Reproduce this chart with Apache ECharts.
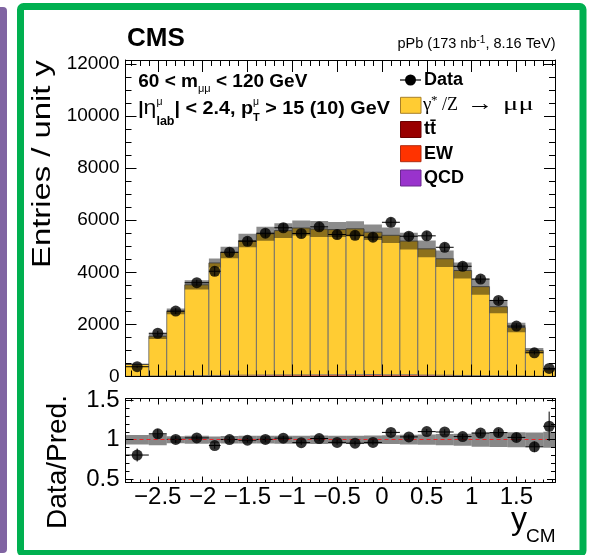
<!DOCTYPE html>
<html><head><meta charset="utf-8">
<script src="https://cdn.jsdelivr.net/npm/echarts@6/dist/echarts.min.js"></script>
<style>html,body{margin:0;padding:0;background:#fff}#c{width:589px;height:555px}</style>
</head><body><div id="c"></div>
<script>
// ---------------- data ----------------
const binEdges = [-2.86,-2.6,-2.4,-2.2,-1.93,-1.8,-1.6,-1.4,-1.2,-1.0,-0.8,-0.6,-0.4,-0.2,0,0.2,0.4,0.6,0.8,1.0,1.2,1.4,1.6,1.8,1.93];
const dataValues = [375,1660,2510,3600,4040,4770,5190,5500,5710,5490,5745,5450,5420,5350,5920,5385,5400,4960,4230,3740,2920,1935,910,310];
const dataErrors = [38,91,112,115,176,154,161,166,169,166,169,165,165,164,172,164,164,157,145,137,121,98,67,49];
const predTotal = [465,1545,2500,3520,4360,4760,5220,5480,5600,5700,5660,5640,5670,5540,5420,5200,4900,4520,4070,3450,2680,1880,1000,265];
const ttbarValues = [4,9,14,18,20,24,28,31,34,36,38,39,40,39,37,34,31,27,22,18,14,10,6,3];
const ewValues = [3,8,12,15,16,18,20,21,22,22,22,22,22,30,22,30,20,18,15,12,10,7,4,2];
const qcdValues = [1,2,3,3,3,4,4,4,4,4,4,4,4,4,4,4,4,4,3,3,2,2,1,1];
const predUncFrac = [0.06,0.07,0.045,0.05,0.04,0.047,0.049,0.049,0.05,0.05,0.054,0.051,0.051,0.054,0.055,0.062,0.065,0.071,0.076,0.089,0.093,0.095,0.09,0.1];
const xTickValues = [-2.5,-2,-1.5,-1,-0.5,0,0.5,1,1.5];
const yTickValues = [0,2000,4000,6000,8000,10000,12000];
const ratioTickValues = [0.5,1,1.5];

// ---------------- layout ----------------
const L = 125.5, R = 555, T1 = 60, B1 = 376.5, T2 = 398.5, B2 = 482.5;
const xMin = binEdges[0], xMax = binEdges[binEdges.length-1];
const yMax = 12150, rMin = 0.46, rMax = 1.52;
const SANS = '"Liberation Sans", Arial, Helvetica, sans-serif';
const SERIF = '"Liberation Serif", "Times New Roman", serif';

const r1 = v => Math.round(v*10)/10;
const xMinor = []; for (let v = -2.8; v <= 1.9001; v += 0.1) { const t = r1(v); if (Math.abs(t*2 - Math.round(t*2)) > 1e-6) xMinor.push(t); }
const yMinor = []; for (let v = 500; v <= 12000; v += 500) if (v % 2000) yMinor.push(v);
const rMinor = []; for (let v = 0.5; v <= 1.5001; v += 0.1) { const t = r1(v); if (Math.abs(t*2 - Math.round(t*2)) > 1e-6) rMinor.push(t); }

const fmtX = v => (v < 0 ? '\u2212' + String(Math.abs(v)) : String(v));

function axis(gridIndex, position, min, max, ticks, len, showLine, label) {
  return {
    type: 'value', gridIndex, position, min, max, z: 10,
    axisLine: {show: showLine, onZero: false, lineStyle: {color: '#000', width: 1}},
    axisTick: {show: true, inside: true, length: len, customValues: ticks, lineStyle: {color: '#000', width: 1}},
    axisLabel: label ? Object.assign({show: true, customValues: ticks, color: '#000', fontFamily: SANS}, label) : {show: false},
    splitLine: {show: false}, minorTick: {show: false}
  };
}

const xAxes = [
  axis(0,'bottom',xMin,xMax,xTickValues,12,true,null),
  axis(0,'bottom',xMin,xMax,xMinor,6,false,null),
  axis(0,'top',xMin,xMax,xTickValues,12,true,null),
  axis(0,'top',xMin,xMax,xMinor,6,false,null),
  axis(1,'bottom',xMin,xMax,xTickValues,6,true,{fontSize:24, margin:3, formatter: fmtX}),
  axis(1,'bottom',xMin,xMax,xMinor,3,false,null),
  axis(1,'top',xMin,xMax,xTickValues,6,true,null),
  axis(1,'top',xMin,xMax,xMinor,3,false,null)
];
const yAxes = [
  axis(0,'left',0,yMax,yTickValues,11,true,{fontSize:19, margin:6, formatter: v => String(v)}),
  axis(0,'left',0,yMax,yMinor,6,false,null),
  axis(0,'right',0,yMax,yTickValues,11,true,null),
  axis(0,'right',0,yMax,yMinor,6,false,null),
  axis(1,'left',rMin,rMax,ratioTickValues,8,true,{fontSize:24, margin:6, formatter: v => String(v)}),
  axis(1,'left',rMin,rMax,rMinor,4,false,null),
  axis(1,'right',rMin,rMax,ratioTickValues,8,true,null),
  axis(1,'right',rMin,rMax,rMinor,4,false,null)
];

// ---------------- series ----------------
const n = dataValues.length;
const dyValues = predTotal.map((t,i) => t - ttbarValues[i] - ewValues[i] - qcdValues[i]);
function rectRender(fill, stroke, lw) {
  return function (params, api) {
    const a = api.coord([api.value(0), api.value(3)]);
    const b = api.coord([api.value(1), api.value(2)]);
    return {type:'rect', shape:{x:a[0], y:a[1], width:b[0]-a[0], height:b[1]-a[1]},
            style:{fill: fill, stroke: stroke || null, lineWidth: lw || 0}};
  };
}
function errRender(params, api) {
  const xc = api.value(0), y = api.value(1), x0 = api.value(2), x1 = api.value(3), e = api.value(4);
  const pL = api.coord([x0,y]), pR = api.coord([x1,y]), pT = api.coord([xc,y+e]), pB = api.coord([xc,y-e]);
  return {type:'group', children:[
    {type:'line', shape:{x1:pL[0],y1:pL[1],x2:pR[0],y2:pR[1]}, style:{stroke:'#000', lineWidth:1}},
    {type:'line', shape:{x1:pT[0],y1:pT[1],x2:pB[0],y2:pB[1]}, style:{stroke:'#000', lineWidth:1}}
  ]};
}
const series = [];
const layers = [
  {vals: ttbarValues, fill: '#990000'},
  {vals: ewValues, fill: '#ff3300'},
  {vals: qcdValues, fill: '#9933cc'},
  {vals: dyValues, fill: '#ffcc33', stroke: 'rgba(110,110,110,0.9)', lw: 1}
];
const cum = new Array(n).fill(0);
layers.forEach(ly => {
  const d = [];
  for (let i = 0; i < n; i++) { d.push([binEdges[i], binEdges[i+1], cum[i], cum[i] + ly.vals[i]]); cum[i] += ly.vals[i]; }
  series.push({type:'custom', xAxisIndex:0, yAxisIndex:0, renderItem: rectRender(ly.fill, ly.stroke, ly.lw),
    data: d, encode:{x:[0,1], y:[2,3]}, clip: true, z: 2, silent: true});
});
// uncertainty band (main)
series.push({type:'custom', xAxisIndex:0, yAxisIndex:0, renderItem: rectRender('rgba(0,0,0,0.45)'),
  data: predTotal.map((t,i) => [binEdges[i], binEdges[i+1], t*(1-predUncFrac[i]), t*(1+predUncFrac[i])]),
  encode:{x:[0,1], y:[2,3]}, clip:true, z:3, silent:true});
const centers = binEdges.slice(0,-1).map((e,i) => (e + binEdges[i+1]) / 2);
// data error bars + points (main)
series.push({type:'custom', xAxisIndex:0, yAxisIndex:0, renderItem: errRender,
  data: dataValues.map((v,i) => [centers[i], v, binEdges[i], binEdges[i+1], dataErrors[i]]),
  encode:{x:0, y:1}, clip:true, z:4, silent:true});
series.push({type:'scatter', xAxisIndex:0, yAxisIndex:0, symbol:'circle', symbolSize:11,
  itemStyle:{color:'#000'}, data: dataValues.map((v,i) => [centers[i], v]), z:5, silent:true});
// ratio band
series.push({type:'custom', xAxisIndex:4, yAxisIndex:4, renderItem: rectRender('rgba(0,0,0,0.47)'),
  data: predUncFrac.map((u,i) => [binEdges[i], binEdges[i+1], 1-u, 1+u]),
  encode:{x:[0,1], y:[2,3]}, clip:true, z:2, silent:true});
const ratio = dataValues.map((v,i) => v / predTotal[i]);
const ratioErr = dataErrors.map((e,i) => e / predTotal[i]);
series.push({type:'scatter', xAxisIndex:4, yAxisIndex:4, symbolSize:0, data: ratio.map((r,i)=>[centers[i], r]), z:3, silent:true,
  markLine:{silent:true, symbol:'none', label:{show:false}, lineStyle:{color:'#e8262a', type:[4,3], width:1.2}, data:[{yAxis:1}], animation:false}});
series.push({type:'custom', xAxisIndex:4, yAxisIndex:4, renderItem: errRender,
  data: ratio.map((r,i) => [centers[i], r, binEdges[i], binEdges[i+1], ratioErr[i]]),
  encode:{x:0, y:1}, clip:true, z:4, silent:true});
series.push({type:'scatter', xAxisIndex:4, yAxisIndex:4, symbol:'circle', symbolSize:11,
  itemStyle:{color:'#000'}, data: ratio.map((r,i) => [centers[i], r]), z:5, silent:true});

// ---------------- text helpers ----------------
const mctx = document.createElement('canvas').getContext('2d');
function tw(t, font) { mctx.font = font; return mctx.measureText(t).width; }
function fontStr(p) { return (p.italic ? 'italic ' : '') + (p.bold ? 'bold ' : 'normal ') + p.size + 'px ' + (p.family || SANS); }
function textAt(t, x, baseline, p, align) {
  const el = {type:'text', x: x, y: baseline - 0.35*p.size, z: 20,
    style:{text: t, font: fontStr(p), fill: '#000', align: align || 'left', verticalAlign: 'middle'}};
  if (p.sx) el.scaleX = p.sx;
  return el;
}
// flow runs left->right starting at x, baseline y
function flow(x, y, parts) {
  const els = []; let cx = x;
  parts.forEach(p => {
    if (p.x !== undefined) cx = p.x;
    els.push(textAt(p.t, cx, y + (p.dy || 0), p));
    if (!p.stay) cx += tw(p.t, fontStr(p)) * (p.sx || 1);
  });
  return els;
}
const els = [];
// frame decorations
els.push({type:'rect', shape:{x:-6, y:7, width:13, height:546, r:4}, style:{fill:'#8064a2'}, z:1});
els.push({type:'rect', shape:{x:20.5, y:6.5, width:562.5, height:547, r:3}, style:{fill:'none', stroke:'#00b050', lineWidth:7}, z:1});
// CMS label & lumi
els.push(textAt('CMS', 127, 48.3, {size:26, bold:true}));
(function(){
  const a = {size:14.5}, s = {size:10};
  const parts = [['pPb (173 nb', a, 0], ['-1', s, -5.5], [', 8.16 TeV)', a, 0]];
  let w = 0; parts.forEach(p => w += tw(p[0], fontStr(p[1])));
  let cx = 555.5 - w;
  parts.forEach(p => { els.push(textAt(p[0], cx, 49.3 + p[2], p[1])); cx += tw(p[0], fontStr(p[1])); });
})();
// selection text
const B19 = {size:19, bold:true};
flow(138.3, 88.7, [
  Object.assign({t:'60 < m'}, B19),
  {t:'\u03bc\u03bc', size:11, dy:4.5},
  Object.assign({t:' < 120 GeV'}, B19)
]).forEach(e => els.push(e));
flow(138.3, 115.3, [
  Object.assign({t:'|'}, B19),
  {t:'\u03b7', size:20, sx:1.15},
  {t:'\u03bc', size:10.5, dy:-10, stay:true},
  {t:'lab', size:12.5, bold:true, dy:11},
  Object.assign({t:'| < 2.4, p', sx:1.04}, B19),
  {t:'\u03bc', size:10.5, dy:-10, stay:true},
  {t:'T', size:11, bold:true, dy:7},
  Object.assign({t:' > 15 (10) GeV', sx:1.04}, B19)
]).forEach(e => els.push(e));
// legend
els.push({type:'line', shape:{x1:400, y1:80, x2:421, y2:80}, style:{stroke:'#000', lineWidth:1.2}, z:20});
els.push({type:'circle', shape:{cx:410.5, cy:80, r:5.5}, style:{fill:'#000'}, z:20});
els.push(textAt('Data', 424, 86.5, {size:18, bold:true}));
const legBoxes = [
  {y:97.3, fill:'#ffcc33', stroke:'#a8802a'},
  {y:121.5, fill:'#990000', stroke:'#6a0000'},
  {y:145.7, fill:'#ff3300', stroke:'#b02a10'},
  {y:170, fill:'#9933cc', stroke:'#6a2a90'}
];
legBoxes.forEach(b => els.push({type:'rect', shape:{x:400.5, y:b.y, width:20.5, height:16}, style:{fill:b.fill, stroke:b.stroke, lineWidth:1}, z:20}));
els.push(textAt('\u03b3', 423, 111.6, {size:19, family:SERIF}));
els.push(textAt('*', 431, 105.5, {size:13, family:SERIF}));
els.push(textAt('/Z', 442, 111.6, {size:18, family:SERIF}));
els.push(textAt('\u2192', 467, 111.6, {size:22, family:SERIF, sx:1.2}));
els.push(textAt('\u03bc', 503, 111.6, {size:19, family:SERIF, sx:1.5}));
els.push(textAt('\u03bc', 518.5, 111.6, {size:19, family:SERIF, sx:1.5}));
els.push(textAt('tt\u0304', 424, 135.8, {size:18, bold:true}));
els.push(textAt('EW', 424, 160, {size:18, bold:true}));
els.push(textAt('QCD', 424, 184.3, {size:18, bold:true}));
// axis titles
(function(){
  const fs = 25, txt = 'Entries / unit y';
  const w = tw(txt, 'normal ' + fs + 'px ' + SANS);
  els.push({type:'text', x: 51.5 - 0.35*fs, y: 164, rotation: Math.PI/2, scaleX: 208 / w, z:20,
    style:{text: txt, font:'normal ' + fs + 'px ' + SANS, fill:'#000', align:'center', verticalAlign:'middle'}});
})();
els.push({type:'text', x: 68 - 0.35*28, y: 462, rotation: Math.PI/2, z:20,
  style:{text:'Data/Pred.', font:'normal 28px ' + SANS, fill:'#000', align:'center', verticalAlign:'middle'}});
els.push(textAt('y', 511, 531, {size:32}));
els.push(textAt('CM', 526, 543, {size:19}));

const option = {
  animation: false,
  backgroundColor: '#fff',
  grid: [
    {left: L, top: T1, width: R - L, height: B1 - T1, containLabel: false, outerBoundsMode: 'none'},
    {left: L, top: T2, width: R - L, height: B2 - T2, containLabel: false, outerBoundsMode: 'none'}
  ],
  xAxis: xAxes,
  yAxis: yAxes,
  series: series,
  graphic: {elements: els}
};
const chart = echarts.init(document.getElementById('c'), null, {renderer: 'canvas'});
chart.setOption(option);
</script></body></html>
